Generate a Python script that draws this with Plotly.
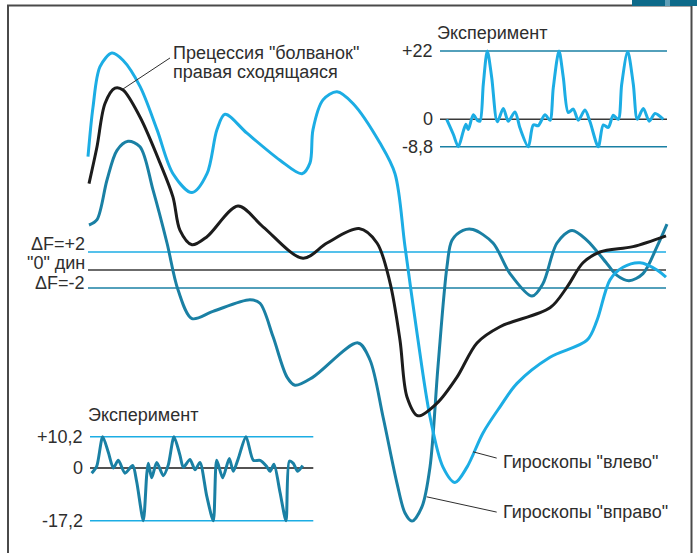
import plotly.graph_objects as go

W, H = 697, 553

# ---------------- data ----------------
# main chart: x = time (arbitrary units), y = force in units of dF
left_x = [0, 5, 12, 24, 35, 52, 69, 85, 104, 119, 129, 137, 159, 192, 214, 222, 225, 235, 249, 265,
          292, 307, 317, 329, 342, 355, 367, 379, 395, 412, 429, 462, 499, 509, 522, 535, 552, 569, 578]
left_y = [12.6, 18.1, 22.6, 24.1, 23.3, 20.4, 15.6, 10.7, 8.6, 10.7, 15.6, 17.3, 15.2, 12.2, 10.7, 11.9,
          15.6, 18.9, 19.8, 18.5, 14.1, 10.7, 2.6, -7.0, -16.3, -21.9, -23.6, -21.9, -18.1, -15.2, -12.6,
          -9.7, -7.8, -5.6, -1.1, 0.3, 0.8, 0.0, -0.8]

prec_x = [1, 9, 17, 27, 35, 52, 72, 85, 92, 104, 119, 150, 175, 215, 239, 271, 289, 302, 312, 319,
          330, 349, 369, 389, 412, 462, 479, 495, 512, 545, 578]
prec_y = [9.6, 13.7, 18.5, 20.2, 20.0, 17.0, 11.9, 8.1, 4.4, 2.8, 3.7, 7.1, 4.8, 1.3, 3.0, 4.6, 3.0,
          -1.4, -7.8, -14.1, -16.2, -14.8, -11.9, -8.1, -6.3, -4.2, -1.9, 0.8, 2.0, 2.6, 3.8]

right_x = [1, 9, 19, 29, 40, 52, 65, 79, 90, 104, 125, 162, 172, 185, 199, 207, 225, 270, 282, 295,
           309, 317, 324, 334, 342, 350, 359, 364, 375, 385, 405, 422, 444, 455, 469, 484, 499, 519,
           529, 541, 555, 569, 579]
right_y = [5.0, 5.6, 10.0, 13.3, 14.3, 13.7, 8.9, 3.0, -2.2, -5.4, -4.6, -3.3, -3.7, -7.4, -11.9, -12.8,
           -11.9, -8.1, -10.0, -16.3, -23.7, -27.0, -27.9, -26.3, -21.9, -10.7, 0.4, 3.3, 4.4, 4.5,
           3.0, -0.4, -2.9, -1.5, 3.0, 4.4, 3.3, 0.7, -0.6, -1.2, -0.4, 2.6, 5.1]

ref_levels = [2, 0, -2]
ref_labels = ["ΔF=+2", "\"0\" дин", "ΔF=-2"]
main_x_end = 578

# experiment 1 (top right), gyroscopes "left"
exp1_x = [6.7, 13.3, 18.3, 23.3, 26, 28.3, 33.3, 37.3, 40, 43.3, 47.3, 51.7, 57.3, 63.3, 68.3, 75, 80,
          88.3, 93.3, 98.3, 105, 110, 113.3, 119, 123.3, 128.3, 133.3, 138.3, 145, 150, 158.3, 163.3,
          168.3, 173.3, 178.3, 181.7, 187.7, 193.3, 197.3, 203.3, 209.3, 215, 223.3]
exp1_y = [0, -4.8, -8.8, -3.8, -1.6, -3.3, 1.5, -0.3, -0.6, 11.3, 22, 13.5, -0.8, 3.5, -0.6, 2.4, -2.8,
          -8.8, -1.8, -2.0, 1.5, -0.3, 10.2, 22, 13.5, 2.2, 3.3, -0.3, 3.0, -0.8, -8.8, -1.8, -2.6, 1.3,
          0, 11.3, 21.8, 11.3, 0, 3.5, -0.6, 1.9, 0]
exp1_levels = [22, 0, -8.8]
exp1_labels = ["+22", "0", "-8,8"]
exp1_x_end = 227

# experiment 2 (bottom left), gyroscopes "right"
exp2_x = [1.7, 6.7, 12.7, 18.3, 23.3, 28.3, 35, 42.7, 46.7, 53.3, 56.7, 58.3, 61.7, 66.7, 73.3, 78.3,
          84, 90, 93.3, 100, 105, 110, 116.7, 123.3, 126.7, 132.7, 139.3, 143.3, 148.3, 156, 163.3, 170,
          176.7, 180, 184, 190, 196, 199.3, 203.3, 207.7, 212.7]
exp2_y = [-1.7, 0.5, 10.2, 5.1, 0, 2.5, -1.7, 0.8, -4.5, -17.2, -2.3, 1.5, -3.2, 1.8, -2.5, 1.0, 10.2,
          4.1, 0.2, 2.8, -0.6, 1.8, -9.1, -17.2, 2.5, -3.2, 3.1, -1.1, 3.1, 10.2, 2.5, 2.5, 0.5, -1.1,
          1.2, -7.9, -17.2, 2.2, 1.5, -1.1, 0.8]
exp2_levels = [10.2, 0, -17.2]
exp2_labels = ["+10,2", "0", "-17,2"]
exp2_x_end = 223.3

# ---------------- style ----------------
LIGHT = "#1cade4"
TEAL = "#1a80a4"
BLACK = "#1c1c1c"
TXT = "#2e2e2e"
FONT = "Liberation Sans"
FS = 18


def rng(v1, p1, v2, p2, L, vertical=False):
    u = (v2 - v1) / (p2 - p1)
    a = v1 - p1 * u
    b = v1 + (L - p1) * u
    return [b, a] if vertical else [a, b]


fig = go.Figure()

# main reference lines
ref_cols = [LIGHT, "#3a3a3a", TEAL]
for lv, c in zip(ref_levels, ref_cols):
    fig.add_trace(go.Scatter(x=[0, main_x_end], y=[lv, lv], mode="lines",
                             line=dict(color=c, width=1.5), xaxis="x", yaxis="y"))

for xs, ys, c in [(right_x, right_y, TEAL), (left_x, left_y, LIGHT), (prec_x, prec_y, BLACK)]:
    fig.add_trace(go.Scatter(x=xs, y=ys, mode="lines",
                             line=dict(color=c, width=3, shape="spline", smoothing=0.9),
                             xaxis="x", yaxis="y"))

# experiment 1
e1_cols = [TEAL, "#3a3a3a", TEAL]
for lv, c in zip(exp1_levels, e1_cols):
    fig.add_trace(go.Scatter(x=[0, exp1_x_end], y=[lv, lv], mode="lines",
                             line=dict(color=c, width=1.5), xaxis="x2", yaxis="y2"))
fig.add_trace(go.Scatter(x=exp1_x, y=exp1_y, mode="lines",
                         line=dict(color=LIGHT, width=3, shape="spline", smoothing=0.8),
                         xaxis="x2", yaxis="y2"))

# experiment 2
e2_cols = [LIGHT, "#1a1a1a", LIGHT]
for lv, c in zip(exp2_levels, e2_cols):
    fig.add_trace(go.Scatter(x=[0, exp2_x_end], y=[lv, lv], mode="lines",
                             line=dict(color=c, width=1.5), xaxis="x3", yaxis="y3"))
fig.add_trace(go.Scatter(x=exp2_x, y=exp2_y, mode="lines",
                         line=dict(color=TEAL, width=3, shape="spline", smoothing=0.7),
                         xaxis="x3", yaxis="y3"))

ax_common = dict(visible=False, fixedrange=True, domain=[0, 1])

annotations = []
tf = dict(family=FONT, size=FS, color=TXT)
ref_shift = [8, 7, 5]
for lv, lab, ys in zip(ref_levels, ref_labels, ref_shift):
    annotations.append(dict(x=-1, y=lv, xref="x", yref="y", text=lab, showarrow=False,
                            xanchor="right", yanchor="middle", yshift=ys, font=tf))
annotations += [
    dict(x=83, y=24.08, xref="x", yref="y", text="Прецессия \"болванок\"", showarrow=False,
         xanchor="left", yanchor="middle", font=tf),
    dict(x=83, y=22.03, xref="x", yref="y", text="правая сходящаяся", showarrow=False,
         xanchor="left", yanchor="middle", font=tf),
    dict(x=413, y=-21.3, xref="x", yref="y", text="Гироскопы \"влево\"", showarrow=False,
         xanchor="left", yanchor="middle", font=tf),
    dict(x=413, y=-26.86, xref="x", yref="y", text="Гироскопы \"вправо\"", showarrow=False,
         xanchor="left", yanchor="middle", font=tf),
]
for lv, lab in zip(exp1_levels, exp1_labels):
    annotations.append(dict(x=-5, y=lv, xref="x2", yref="y2", text=lab, showarrow=False,
                            xanchor="right", yanchor="middle", font=tf))
annotations.append(dict(x=-5.3, y=27.7, xref="x2", yref="y2", text="Эксперимент", showarrow=False,
                        xanchor="left", yanchor="middle", font=tf))
for lv, lab in zip(exp2_levels, exp2_labels):
    annotations.append(dict(x=-4.7, y=lv, xref="x3", yref="y3", text=lab, showarrow=False,
                            xanchor="right", yanchor="middle", font=tf))
annotations.append(dict(x=-3.7, y=17.3, xref="x3", yref="y3", text="Эксперимент", showarrow=False,
                        xanchor="left", yanchor="middle", font=tf))


def px(xp):
    return xp / W


def py(yp):
    return 1 - yp / H


shapes = [
    # leader lines
    dict(type="line", xref="x", yref="y", x0=82, y0=23.56, x1=35, y1=20.11,
         line=dict(color=TXT, width=1)),
    dict(type="line", xref="x", yref="y", x0=385, y0=-20.2, x1=408.7, y1=-20.9,
         line=dict(color=TXT, width=1)),
    dict(type="line", xref="x", yref="y", x0=338.7, y0=-25.2, x1=408.7, y1=-26.9,
         line=dict(color=TXT, width=1)),
    # frame
    dict(type="line", xref="paper", yref="paper", x0=px(8), y0=py(5.5), x1=px(8), y1=py(560),
         line=dict(color="#4a4a4a", width=2)),
    dict(type="line", xref="paper", yref="paper", x0=px(7), y0=py(5.5), x1=px(692), y1=py(5.5),
         line=dict(color="#4a4a4a", width=2)),
    dict(type="line", xref="paper", yref="paper", x0=px(691.5), y0=py(5), x1=px(691.5), y1=py(560),
         line=dict(color="#4a4a4a", width=2)),
    dict(type="rect", xref="paper", yref="paper", x0=px(632), y0=py(0), x1=px(698), y1=py(6),
         fillcolor="#0d6a8a", line=dict(width=0)),
    dict(type="rect", xref="paper", yref="paper", x0=px(665), y0=py(0), x1=px(670), y1=py(6),
         fillcolor="#5f9fb8", line=dict(width=0)),
]

fig.update_layout(
    width=W, height=H, margin=dict(l=0, r=0, t=0, b=0, pad=0),
    paper_bgcolor="white", plot_bgcolor="rgba(0,0,0,0)",
    showlegend=False,
    xaxis=dict(**ax_common, range=rng(0, 88, 578, 666, W)),
    yaxis=dict(**ax_common, range=rng(0, 270, 2, 252, H, vertical=True)),
    xaxis2=dict(**ax_common, range=rng(0, 440, 227, 667, W), anchor="y2"),
    yaxis2=dict(**ax_common, range=rng(22, 51, -8.8, 146.7, H, vertical=True), anchor="x2"),
    xaxis3=dict(**ax_common, range=rng(0, 90, 223.3, 313.3, W), anchor="y3"),
    yaxis3=dict(**ax_common, range=rng(10.2, 436.7, -17.2, 520.7, H, vertical=True), anchor="x3"),
    annotations=annotations,
    shapes=shapes,
)

fig.write_html("out.html", config={"displayModeBar": False, "staticPlot": True},
               post_script="document.body.style.margin='0';document.body.style.overflow='hidden';")
